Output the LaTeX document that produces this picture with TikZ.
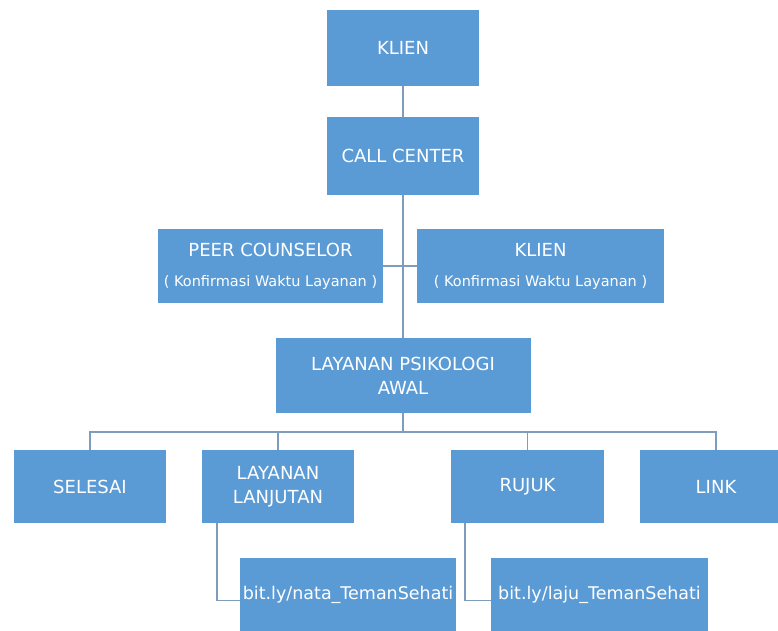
\documentclass[tikz,border=0pt]{standalone}
\usepackage{fontspec}
\setmainfont{DejaVu Sans}
\definecolor{boxblue}{HTML}{5B9BD5}
\definecolor{wiregray}{HTML}{7E9CBB}
\newcommand{\waktu}{{\fontsize{14.5bp}{17bp}\selectfont ( Konfirmasi Waktu Layanan )}}

\begin{document}
\begin{tikzpicture}[x=1bp, y=-1bp,
    box/.style={fill=boxblue, text=white, inner sep=0pt, align=center,
        font=\fontsize{18bp}{24bp}\selectfont},
    wire/.style={draw=wiregray, line width=1.6bp}]
    \clip (0,0) rectangle (778,631);
    \fill[white] (0,0) rectangle (778,631);

    % Top of the chart
    \node[box, minimum width=152bp, minimum height=76bp] (klien) at (403,48) {KLIEN};
    \node[box, minimum width=152bp, minimum height=77bp] (callcenter) at (403,156) {CALL CENTER};

    % Confirmation of the time
    \node[box, minimum width=225bp, minimum height=74bp] (peer) at (270.5,266) {PEER COUNSELOR\\[6bp]\waktu};
    \node[box, minimum width=247bp, minimum height=74bp] (klienwaktu) at (540.5,266) {KLIEN\\[6bp]\waktu};

    % First service
    \node[box, minimum width=255bp, minimum height=75bp] (psikologi) at (403,375.5) {LAYANAN PSIKOLOGI\\AWAL};

    % The four outcomes
    \node[box, minimum width=152bp, minimum height=73bp] (selesai) at (90,486.5) {SELESAI};
    \node[box, minimum width=152bp, minimum height=73bp] (lanjutan) at (278,486.5) {LAYANAN\\LANJUTAN};
    \node[box, minimum width=153bp, minimum height=73bp] (rujuk) at (527.5,486.5) {RUJUK};
    \node[box, minimum width=152bp, minimum height=73bp] (linkbox) at (716,486.5) {LINK};

    % Links
    \node[box, minimum width=216bp, minimum height=73bp, font=\fontsize{17.5bp}{20bp}\selectfont] (nata) at (348,594.5) {bit.ly/nata\_TemanSehati};
    \node[box, minimum width=217bp, minimum height=73bp, font=\fontsize{17.5bp}{20bp}\selectfont] (laju) at (599.5,594.5) {bit.ly/laju\_TemanSehati};

    % Connectors
    \draw[wire] (klien) -- (callcenter);
    \draw[wire] (callcenter) -- (psikologi);
    \draw[wire] (peer) -- (klienwaktu);

    \coordinate (bus) at (0,432);
    \draw[wire] (psikologi.south) -- (psikologi.south |- bus);
    \draw[wire] (selesai.north) |- (bus -| linkbox.north) -- (linkbox.north);
    \draw[wire] (lanjutan.north) -- (lanjutan.north |- bus);
    \draw[wire] (rujuk.north) -- (rujuk.north |- bus);

    \draw[wire] ([xshift=15bp]lanjutan.south west) |- ([yshift=-6bp]nata.west);
    \draw[wire] ([xshift=14bp]rujuk.south west) |- ([yshift=-6bp]laju.west);
\end{tikzpicture}
\end{document}
